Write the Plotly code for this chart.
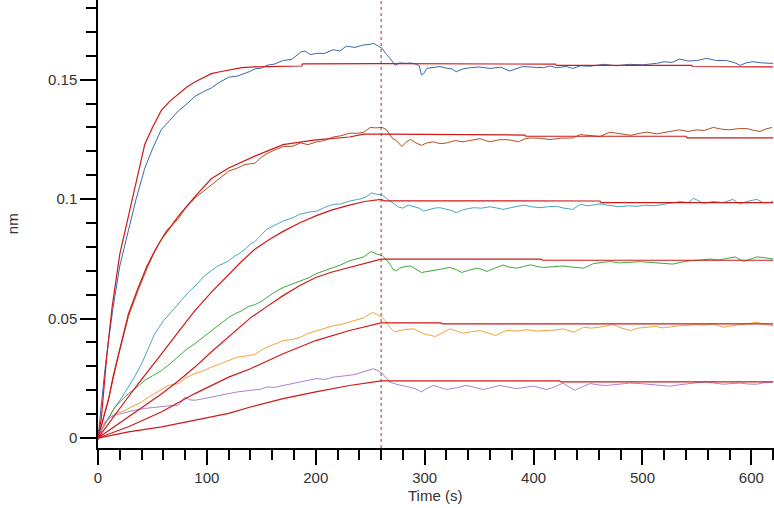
import plotly.graph_objects as go

# ---------------- data (time in s, response in nm) ----------------
t1 = [0, 2, 4, 6, 10, 14, 20, 25, 28, 35, 43, 50, 58, 66, 74, 82, 89, 97, 104, 112, 120, 128, 135, 140, 144, 150, 155, 162, 170, 178, 186, 190, 195, 201, 208, 216, 222, 228, 236, 244, 250, 253, 257, 261, 265, 268, 273, 277, 283, 287, 292, 295, 297, 299, 302, 308, 314, 320, 325, 329, 335, 342, 350, 360, 370, 378, 385, 390, 400, 409, 415, 421, 430, 436, 443, 452, 464, 476, 488, 500, 513, 520, 527, 534, 542, 550, 559, 568, 577, 584, 590, 595, 601, 610, 620]
v1 = [0.0, 0.010, 0.019, 0.027, 0.042, 0.055, 0.072, 0.082, 0.087, 0.100, 0.113, 0.121, 0.129, 0.133, 0.137, 0.140, 0.143, 0.145, 0.1465, 0.149, 0.151, 0.1515, 0.1525, 0.1535, 0.1545, 0.1548, 0.156, 0.1565, 0.158, 0.1585, 0.1615, 0.162, 0.1605, 0.161, 0.161, 0.1625, 0.162, 0.164, 0.1635, 0.1645, 0.1648, 0.1652, 0.1642, 0.163, 0.1605, 0.159, 0.156, 0.157, 0.1568, 0.157, 0.1565, 0.1558, 0.152, 0.1525, 0.1547, 0.1552, 0.1555, 0.1548, 0.1545, 0.1533, 0.1545, 0.155, 0.1553, 0.1547, 0.1552, 0.1536, 0.1548, 0.1555, 0.1552, 0.155, 0.1557, 0.155, 0.1555, 0.1547, 0.1558, 0.1556, 0.1564, 0.1558, 0.1564, 0.1562, 0.1568, 0.1575, 0.1572, 0.1586, 0.1578, 0.158, 0.1589, 0.158, 0.158, 0.1572, 0.156, 0.157, 0.1575, 0.157, 0.1568]

t2 = [0, 5, 10, 19, 28, 37, 45, 52, 58, 63, 68, 74, 80, 89, 96, 104, 112, 120, 128, 135, 140, 144, 150, 155, 162, 170, 178, 186, 193, 201, 208, 216, 223, 231, 238, 244, 250, 255, 261, 265, 270, 274, 279, 283, 287, 292, 297, 302, 308, 314, 320, 328, 335, 343, 351, 356, 360, 368, 375, 381, 386, 392, 397, 405, 415, 425, 436, 443, 452, 461, 470, 480, 489, 497, 504, 513, 522, 528, 534, 542, 550, 557, 565, 572, 580, 588, 596, 602, 608, 613, 619]
v2 = [0.0, 0.008, 0.017, 0.035, 0.051, 0.062, 0.071, 0.078, 0.083, 0.087, 0.089, 0.092, 0.096, 0.1005, 0.103, 0.106, 0.109, 0.1117, 0.113, 0.1145, 0.1148, 0.115, 0.1175, 0.119, 0.1205, 0.122, 0.122, 0.1235, 0.1228, 0.124, 0.1245, 0.126, 0.1265, 0.1276, 0.1275, 0.128, 0.130, 0.1298, 0.130, 0.129, 0.1256, 0.1245, 0.122, 0.1238, 0.125, 0.1235, 0.1225, 0.1235, 0.124, 0.1232, 0.1235, 0.1245, 0.124, 0.1248, 0.1253, 0.1245, 0.124, 0.1248, 0.1249, 0.1245, 0.124, 0.1252, 0.1256, 0.1255, 0.1249, 0.1255, 0.1256, 0.127, 0.1265, 0.1262, 0.128, 0.1272, 0.1267, 0.1275, 0.128, 0.1273, 0.128, 0.1285, 0.129, 0.1283, 0.129, 0.1287, 0.130, 0.1293, 0.129, 0.1295, 0.1295, 0.1288, 0.1283, 0.1293, 0.130]

t3 = [0, 3, 6.4, 11, 15.6, 22, 28, 34, 40, 46, 52, 60, 68, 75, 83, 90, 98, 104, 110, 115, 120, 125, 129, 135, 140, 144, 150, 155, 162, 170, 178, 185, 193, 201, 208, 216, 223, 231, 238, 244, 248, 251, 256, 261, 265, 268, 272, 276, 280, 285, 290, 295, 299, 305, 310, 314, 320, 325, 329, 335, 340, 345, 352, 360, 366, 372, 380, 386, 391, 398, 406, 413, 421, 428, 436, 443, 450, 461, 470, 478, 487, 495, 503, 511, 519, 527, 535, 542, 547, 552, 556, 565, 574, 583, 589, 596, 605, 611, 617, 620]
v3 = [0.0, 0.003, 0.006, 0.0095, 0.013, 0.017, 0.0214, 0.026, 0.031, 0.037, 0.0436, 0.049, 0.0533, 0.057, 0.061, 0.064, 0.068, 0.070, 0.072, 0.073, 0.0742, 0.076, 0.077, 0.079, 0.0812, 0.0822, 0.085, 0.0874, 0.089, 0.0908, 0.092, 0.0936, 0.0945, 0.095, 0.0965, 0.0978, 0.098, 0.0992, 0.0998, 0.1005, 0.1015, 0.1026, 0.102, 0.1017, 0.1003, 0.0992, 0.098, 0.0967, 0.0962, 0.0975, 0.097, 0.0962, 0.095, 0.0958, 0.0963, 0.0964, 0.0958, 0.0952, 0.0943, 0.0955, 0.096, 0.0964, 0.0962, 0.0968, 0.0963, 0.0957, 0.0965, 0.0972, 0.0975, 0.0968, 0.0964, 0.0968, 0.097, 0.0962, 0.0957, 0.0978, 0.0972, 0.098, 0.0975, 0.0968, 0.0972, 0.097, 0.0975, 0.0972, 0.0978, 0.0985, 0.099, 0.0985, 0.1003, 0.0992, 0.0982, 0.099, 0.0985, 0.0999, 0.098, 0.099, 0.0999, 0.0985, 0.0986, 0.099]

t4 = [0, 2, 3.4, 8, 15.6, 22, 28, 35, 43, 50, 58.5, 66, 74, 81, 89, 96, 104, 112, 120, 126, 132, 138, 144, 150, 155, 162, 170, 178, 186, 193, 201, 208, 216, 223, 231, 238, 244, 248, 251, 256, 261, 265, 268, 271, 274, 277, 282, 287, 292, 297, 304, 311, 317, 323, 329, 334, 341, 348, 353, 357, 364, 372, 378, 385, 391, 397, 403, 409, 418, 427, 436, 446, 455, 462, 470, 479, 489, 498, 507, 517, 528, 536, 544, 553, 562, 570, 578, 585, 593, 599, 605, 612, 620]
v4 = [-0.001, 0.0005, 0.0033, 0.007, 0.013, 0.016, 0.0186, 0.021, 0.0242, 0.026, 0.0283, 0.031, 0.034, 0.037, 0.0395, 0.042, 0.045, 0.048, 0.0505, 0.052, 0.0533, 0.055, 0.0558, 0.0572, 0.0589, 0.061, 0.063, 0.0645, 0.0658, 0.067, 0.0689, 0.070, 0.0714, 0.0725, 0.0742, 0.075, 0.0758, 0.0772, 0.078, 0.077, 0.0763, 0.0745, 0.0728, 0.0705, 0.070, 0.0711, 0.0718, 0.072, 0.0705, 0.0693, 0.0698, 0.0703, 0.0708, 0.0714, 0.0705, 0.0693, 0.0703, 0.0711, 0.0705, 0.0697, 0.071, 0.0724, 0.0715, 0.0711, 0.0718, 0.0725, 0.0718, 0.0714, 0.0717, 0.072, 0.0715, 0.0711, 0.073, 0.0733, 0.0739, 0.0733, 0.0735, 0.0738, 0.0735, 0.0732, 0.0728, 0.0736, 0.0742, 0.0745, 0.0749, 0.0745, 0.0752, 0.0758, 0.0739, 0.0748, 0.0758, 0.0755, 0.0749]

t5 = [0, 3, 6.4, 11, 15.6, 22, 28, 34, 40, 46, 52, 58, 64.6, 70, 74, 80, 89, 96, 104, 112, 120, 128, 134, 140, 144, 150, 155, 162, 170, 178, 186, 193, 201, 208, 216, 223, 231, 238, 244, 248, 252, 256, 261, 264, 268, 272, 277, 283, 290, 295, 299, 305, 310, 316, 323, 329, 335, 343, 351, 358, 365, 370, 375, 384, 394, 403, 412, 420, 427, 437, 446, 453, 461, 467, 473, 481, 489, 496, 504, 512, 519, 527, 534, 542, 550, 557, 565, 574, 582, 590, 597, 605, 612, 620]
v5 = [0.0, 0.003, 0.006, 0.0085, 0.0103, 0.011, 0.0124, 0.0138, 0.0151, 0.017, 0.0186, 0.020, 0.022, 0.0225, 0.0228, 0.025, 0.027, 0.028, 0.0297, 0.031, 0.0325, 0.0339, 0.0342, 0.0346, 0.035, 0.0368, 0.038, 0.0392, 0.0408, 0.0412, 0.0422, 0.0438, 0.045, 0.046, 0.047, 0.0475, 0.0485, 0.0495, 0.0503, 0.0515, 0.0526, 0.0518, 0.0505, 0.049, 0.0464, 0.0445, 0.045, 0.0455, 0.0457, 0.0445, 0.0436, 0.043, 0.0425, 0.044, 0.0457, 0.0448, 0.0439, 0.0445, 0.045, 0.044, 0.0429, 0.044, 0.045, 0.0448, 0.0453, 0.0448, 0.045, 0.0452, 0.0457, 0.0443, 0.0464, 0.046, 0.0464, 0.047, 0.0475, 0.046, 0.045, 0.046, 0.0464, 0.0467, 0.0461, 0.0466, 0.047, 0.0472, 0.0475, 0.0473, 0.0478, 0.0464, 0.047, 0.0475, 0.0478, 0.0485, 0.0476, 0.047]

t6 = [0, 3, 6.4, 11, 15.6, 22, 28, 35, 43, 50, 58.5, 66, 74, 80, 84, 89, 97, 104, 112, 120, 128, 135, 144, 150, 155, 162, 170, 178, 186, 193, 201, 208, 216, 223, 231, 236, 240, 246, 253, 257, 261, 265, 268, 274, 280, 287, 292, 297, 302, 308, 314, 320, 329, 338, 346, 354, 362, 369, 377, 384, 392, 400, 406, 412, 420, 427, 432, 438, 445, 452, 460, 467, 478, 488, 498, 507, 516, 525, 534, 544, 551, 559, 566, 574, 582, 590, 597, 605, 612, 620]
v6 = [0.0, 0.0035, 0.0068, 0.0085, 0.0096, 0.0103, 0.011, 0.0118, 0.0124, 0.0128, 0.013, 0.0135, 0.0138, 0.0172, 0.016, 0.0158, 0.0165, 0.0172, 0.018, 0.0186, 0.0193, 0.0197, 0.020, 0.0205, 0.0214, 0.0212, 0.022, 0.0228, 0.0235, 0.024, 0.0249, 0.0245, 0.0255, 0.0258, 0.0262, 0.0266, 0.0272, 0.028, 0.029, 0.0283, 0.027, 0.025, 0.0235, 0.0225, 0.022, 0.0212, 0.0205, 0.0193, 0.0208, 0.022, 0.0212, 0.0203, 0.021, 0.022, 0.0212, 0.0203, 0.0212, 0.022, 0.0213, 0.0207, 0.0212, 0.0217, 0.021, 0.0203, 0.0215, 0.023, 0.0215, 0.020, 0.0215, 0.0228, 0.0222, 0.022, 0.0225, 0.023, 0.0228, 0.0225, 0.022, 0.0217, 0.0223, 0.023, 0.0232, 0.0235, 0.023, 0.0225, 0.0228, 0.023, 0.0226, 0.0225, 0.0232, 0.0235]

# fitted curves
ft1 = [0, 3, 8, 13, 20, 27, 37, 43, 50, 58, 66, 74, 82, 89, 97, 104, 112, 120, 132, 144, 187, 188, 230, 260, 420, 421, 545, 546, 620]
fv1 = [0, 0.008, 0.034, 0.055, 0.077, 0.091, 0.112, 0.123, 0.130, 0.137, 0.141, 0.144, 0.147, 0.149, 0.151, 0.1525, 0.1533, 0.154, 0.155, 0.1553, 0.1557, 0.1566, 0.1567, 0.1567, 0.1565, 0.156, 0.156, 0.1555, 0.1553]
ft2 = [0, 5, 9.5, 14, 19, 28, 37, 45, 52, 58, 66, 74, 89, 104, 120, 144, 170, 200, 231, 244, 260, 392, 393, 540, 541, 620]
fv2 = [0, 0.0085, 0.0158, 0.026, 0.0353, 0.052, 0.063, 0.072, 0.0783, 0.083, 0.088, 0.093, 0.101, 0.1085, 0.113, 0.118, 0.1228, 0.1248, 0.126, 0.1272, 0.1272, 0.1268, 0.1263, 0.1263, 0.1256, 0.1256]
ft3 = [0, 5, 15.6, 25, 37, 48, 58.5, 74, 89, 104, 120, 132, 144, 157, 170, 185, 200, 215, 231, 245, 260, 263, 461, 462, 620]
fv3 = [0, 0.003, 0.0095, 0.0155, 0.0228, 0.029, 0.0353, 0.0445, 0.0533, 0.061, 0.0686, 0.074, 0.079, 0.083, 0.0865, 0.090, 0.093, 0.0955, 0.0975, 0.099, 0.0999, 0.0993, 0.0992, 0.0985, 0.0985]
ft4 = [0, 14, 28, 43, 58.5, 74, 89, 104, 120, 140, 155, 170, 185, 200, 215, 231, 245, 260, 407, 408, 620]
fv4 = [0, 0.0045, 0.009, 0.0135, 0.0185, 0.024, 0.0297, 0.036, 0.0422, 0.0503, 0.055, 0.0596, 0.0637, 0.0672, 0.0695, 0.0714, 0.0733, 0.0749, 0.0749, 0.0744, 0.0744]
ft5 = [0, 28, 58.5, 89, 120, 140, 170, 200, 231, 260, 315, 316, 620]
fv5 = [0, 0.0047, 0.011, 0.0186, 0.0255, 0.029, 0.0353, 0.0408, 0.045, 0.0482, 0.0482, 0.0478, 0.0478]
ft6 = [0, 28, 58.5, 89, 120, 140, 170, 200, 231, 260, 424, 425, 620]
fv6 = [0, 0.0026, 0.0047, 0.0075, 0.0103, 0.013, 0.0165, 0.0193, 0.022, 0.0239, 0.0239, 0.0235, 0.0235]

x_major_ticks = [0, 100, 200, 300, 400, 500, 600]
y_major_ticks = [0, 0.05, 0.1, 0.15]
y_tick_labels = ["0", "0.05", "0.1", "0.15"]
dissociation_start = 260

data_series = [(t1, v1, "#3a68ad"), (t2, v2, "#b24f22"), (t3, v3, "#48a6bd"),
               (t4, v4, "#3ea83e"), (t5, v5, "#f0a23e"), (t6, v6, "#a783d6")]
fit_series = [(ft1, fv1), (ft2, fv2), (ft3, fv3), (ft4, fv4), (ft5, fv5), (ft6, fv6)]
FIT_COLOR = "#d01818"

fig = go.Figure()
for t, v, c in data_series:
    fig.add_trace(go.Scatter(x=t, y=v, mode="lines", line=dict(color=c, width=1), showlegend=False))
for t, v in fit_series:
    fig.add_trace(go.Scatter(x=t, y=v, mode="lines", line=dict(color=FIT_COLOR, width=1.2), showlegend=False))

fig.add_shape(type="line", xref="x", yref="paper", x0=dissociation_start, x1=dissociation_start,
              y0=0, y1=1, line=dict(color="#c02020", width=1, dash="dot"))

font = dict(family="Liberation Sans, Arial, sans-serif", size=15, color="#333333")

fig.update_layout(
    width=774, height=508,
    margin=dict(l=98, r=0, t=0, b=60),
    paper_bgcolor="white", plot_bgcolor="white",
    font=font,
    showlegend=False,
    xaxis=dict(range=[0, 620.8], showgrid=False, zeroline=False, showline=True,
               linecolor="black", linewidth=1.5, ticks="outside", ticklen=15, tickwidth=1.5,
               tickcolor="black", tickvals=x_major_ticks, tickfont=font,
               minor=dict(dtick=20, tick0=0, ticks="outside", ticklen=10, tickwidth=1.5,
                          tickcolor="black", showgrid=False)),
    yaxis=dict(range=[-0.00417, 0.18333], showgrid=False, zeroline=False, showline=True,
               linecolor="black", linewidth=1.5, ticks="outside", ticklen=16, tickwidth=1.5,
               tickcolor="black", tickvals=y_major_ticks, ticktext=y_tick_labels, tickfont=font,
               minor=dict(dtick=0.01, tick0=0, ticks="outside", ticklen=10, tickwidth=1.5,
                          tickcolor="black", showgrid=False)),
    annotations=[
        dict(text="Time (s)", xref="paper", yref="paper", x=0.4985, y=-0.107,
             showarrow=False, font=font, xanchor="center", yanchor="middle"),
        dict(text="nm", xref="paper", yref="paper", x=-0.127, y=0.5,
             showarrow=False, font=font, textangle=-90, xanchor="center", yanchor="middle"),
    ],
)

fig.write_html("out.html")
